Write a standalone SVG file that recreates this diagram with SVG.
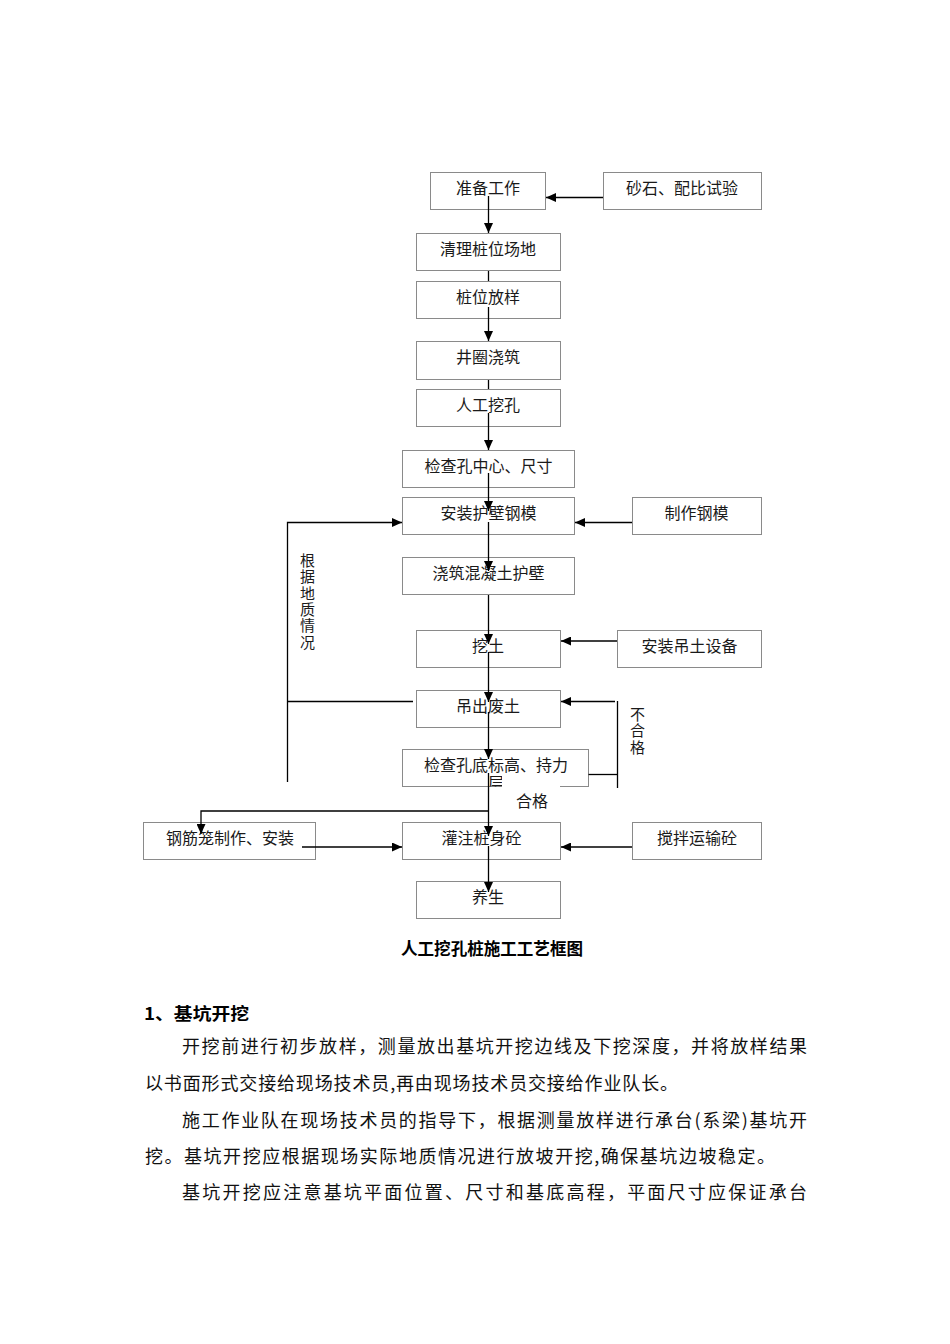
<svg xmlns="http://www.w3.org/2000/svg" width="950" height="1344" viewBox="0 0 950 1344">
<style>
.box{fill:#fff;stroke:#8a8a8a;stroke-width:1}
.t{font-family:"Noto Sans CJK SC","Liberation Sans",sans-serif;font-size:16px;fill:#1a1a1a;text-anchor:middle}
.v{font-family:"Noto Sans CJK SC","Liberation Sans",sans-serif;font-size:15px;fill:#1a1a1a;writing-mode:vertical-rl;letter-spacing:1.3px}
.c{fill:none;stroke:#000;stroke-width:1.3}
.a{marker-end:url(#ah)}
.p{font-family:"Noto Sans CJK SC","Liberation Serif",serif;font-size:18px;fill:#111}
.b{font-family:"Noto Sans CJK SC","Liberation Sans",sans-serif;font-weight:bold;fill:#000}
</style>
<defs>
<marker id="ah" markerUnits="userSpaceOnUse" markerWidth="11" markerHeight="9" refX="10" refY="4.5" orient="auto">
<path d="M0,0 L10,4.5 L0,9 z" fill="#000"/>
</marker>
<clipPath id="clipc2"><rect x="402.5" y="749.5" width="186" height="37"/></clipPath>
</defs>
<rect width="950" height="1344" fill="#fff"/>

<g id="prep"><rect class="box" x="430.5" y="172.5" width="115" height="37"/><text class="t" x="488" y="194">准备工作</text></g>
<g id="sand"><rect class="box" x="603.5" y="172.5" width="158" height="37"/><text class="t" x="682" y="194">砂石、配比试验</text></g>
<g id="clear"><rect class="box" x="416.5" y="233.5" width="144" height="37"/><text class="t" x="488" y="255">清理桩位场地</text></g>
<g id="layout"><rect class="box" x="416.5" y="281.5" width="144" height="37"/><text class="t" x="488" y="303">桩位放样</text></g>
<g id="ring"><rect class="box" x="416.5" y="341.5" width="144" height="38"/><text class="t" x="488" y="363">井圈浇筑</text></g>
<g id="dig"><rect class="box" x="416.5" y="389.5" width="144" height="37"/><text class="t" x="488" y="411">人工挖孔</text></g>
<g id="check1"><rect class="box" x="402.5" y="450.5" width="172" height="37"/><text class="t" x="488.5" y="472">检查孔中心、尺寸</text></g>
<g id="form"><rect class="box" x="402.5" y="497.5" width="172" height="37"/><text class="t" x="488.5" y="519">安装护壁钢模</text></g>
<g id="makeform"><rect class="box" x="632.5" y="497.5" width="129" height="37"/><text class="t" x="696.5" y="519">制作钢模</text></g>
<g id="wall"><rect class="box" x="402.5" y="557.5" width="172" height="37"/><text class="t" x="488.5" y="579">浇筑混凝土护壁</text></g>
<g id="excavate"><rect class="box" x="416.5" y="630.5" width="144" height="37"/><text class="t" x="488" y="652">挖土</text></g>
<g id="hoist"><rect class="box" x="617.5" y="630.5" width="144" height="37"/><text class="t" x="689.5" y="652">安装吊土设备</text></g>
<g id="lift"><rect class="box" x="416.5" y="690.5" width="144" height="37"/><text class="t" x="488" y="712">吊出废土</text></g>
<g id="check2"><rect class="box" x="402.5" y="749.5" width="186" height="37"/><text class="t" clip-path="url(#clipc2)"><tspan x="496" y="770.5">检查孔底标高、持力</tspan><tspan x="496" y="789">层</tspan></text></g>
<g id="rebar"><rect class="box" x="143.5" y="822.5" width="172" height="37"/><text class="t" x="230" y="844">钢筋笼制作、安装</text></g>
<g id="pour"><rect class="box" x="402.5" y="822.5" width="158" height="37"/><text class="t" x="481.5" y="844">灌注桩身砼</text></g>
<g id="mix"><rect class="box" x="632.5" y="822.5" width="129" height="37"/><text class="t" x="697" y="844">搅拌运输砼</text></g>
<g id="cure"><rect class="box" x="416.5" y="881.5" width="144" height="37"/><text class="t" x="488" y="903">养生</text></g>

<g id="label-pass"><rect x="502" y="775" width="58" height="44" fill="#fff"/><text class="t" x="532" y="807">合格</text></g>

<g id="connectors">
<line class="c a" x1="488.5" y1="196" x2="488.5" y2="233"/>
<line class="c" x1="488.5" y1="271" x2="488.5" y2="281"/>
<line class="c a" x1="488.5" y1="307" x2="488.5" y2="341"/>
<line class="c" x1="488.5" y1="380" x2="488.5" y2="389"/>
<line class="c a" x1="488.5" y1="413" x2="488.5" y2="450"/>
<line class="c a" x1="488.5" y1="473" x2="488.5" y2="511"/>
<line class="c a" x1="488.5" y1="522" x2="488.5" y2="571"/>
<line class="c a" x1="488.5" y1="595" x2="488.5" y2="644"/>
<line class="c a" x1="488.5" y1="652" x2="488.5" y2="702"/>
<line class="c a" x1="488.5" y1="712" x2="488.5" y2="759"/>
<line class="c a" x1="488.5" y1="773" x2="488.5" y2="836"/>
<line class="c a" x1="488.5" y1="846" x2="488.5" y2="892"/>
<line class="c a" x1="603" y1="197.5" x2="546" y2="197.5"/>
<line class="c a" x1="632" y1="522.5" x2="575" y2="522.5"/>
<polyline class="c a" points="287.5,782 287.5,522.5 402,522.5"/>
<line class="c" x1="287.5" y1="701.5" x2="413" y2="701.5"/>
<line class="c a" x1="617" y1="641" x2="561" y2="641"/>
<line class="c" x1="588.5" y1="774.5" x2="617.5" y2="774.5"/>
<line class="c" x1="617.5" y1="701" x2="617.5" y2="788"/>
<line class="c a" x1="615" y1="701.5" x2="561" y2="701.5"/>
<polyline class="c a" points="488.5,811 201,811 201,834"/>
<line class="c a" x1="302" y1="847" x2="402" y2="847"/>
<line class="c a" x1="632" y1="847" x2="561" y2="847"/>
</g>

<g id="side-labels">
<text class="v" x="307.5" y="553">根据地质情况</text>
<text class="v" x="637.5" y="707">不合格</text>
</g>

<text class="b" x="401" y="955" font-size="17" textLength="182" lengthAdjust="spacingAndGlyphs">人工挖孔桩施工工艺框图</text>

<g id="body-text">
<text class="b" x="144" y="1020" font-size="17" textLength="105" lengthAdjust="spacingAndGlyphs">1、基坑开挖</text>
<text class="p" x="182" y="1053" textLength="625" lengthAdjust="spacing">开挖前进行初步放样，测量放出基坑开挖边线及下挖深度，并将放样结果</text>
<text class="p" x="145" y="1089.5" textLength="533" lengthAdjust="spacing">以书面形式交接给现场技术员,再由现场技术员交接给作业队长。</text>
<text class="p" x="182" y="1126.5" textLength="625" lengthAdjust="spacing">施工作业队在现场技术员的指导下，根据测量放样进行承台(系梁)基坑开</text>
<text class="p" x="145" y="1162.5" textLength="630" lengthAdjust="spacing">挖。基坑开挖应根据现场实际地质情况进行放坡开挖,确保基坑边坡稳定。</text>
<text class="p" x="182" y="1198.5" textLength="625" lengthAdjust="spacing">基坑开挖应注意基坑平面位置、尺寸和基底高程，平面尺寸应保证承台</text>
</g>
</svg>
